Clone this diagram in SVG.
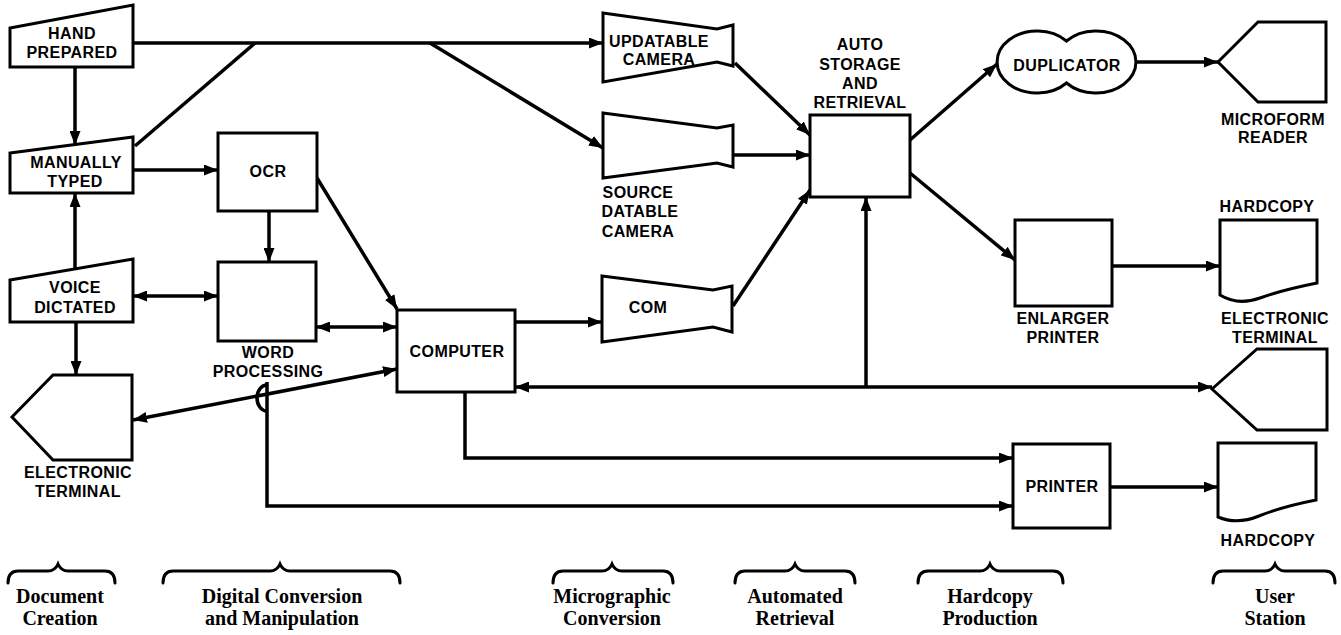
<svg xmlns="http://www.w3.org/2000/svg" width="1341" height="635" viewBox="0 0 1341 635">
<style>
.s{fill:#fff;stroke:#000;stroke-width:3;stroke-linejoin:miter}
.c{fill:none;stroke:#000;stroke-width:3.5}
.n{font-family:"Liberation Sans",Arial,sans-serif;font-size:16px;font-weight:bold;letter-spacing:0.4px;text-anchor:middle;fill:#000}
.b{font-family:"Liberation Serif","Times New Roman",serif;font-size:20px;font-weight:bold;text-anchor:middle;fill:#000}
.br{fill:none;stroke:#000;stroke-width:3;stroke-linecap:round}
</style>
<defs>
<marker id="a" markerUnits="userSpaceOnUse" markerWidth="15" markerHeight="11" refX="14" refY="5.5" orient="auto-start-reverse">
<path d="M0,0 L14,5.5 L0,11 z" fill="#000"/>
</marker>
</defs>
<rect width="1341" height="635" fill="#fff"/>

<g id="connectors">
<path class="c" d="M133,43 H603" marker-end="url(#a)"/>
<path class="c" d="M135,146 L255,43"/>
<path class="c" d="M430,43 L603,148" marker-end="url(#a)"/>
<path class="c" d="M75,67 V145" marker-end="url(#a)"/>
<path class="c" d="M75,270 V193" marker-end="url(#a)"/>
<path class="c" d="M133,170 H218" marker-end="url(#a)"/>
<path class="c" d="M269,211 V262" marker-end="url(#a)"/>
<path class="c" d="M317,178 L397,309" marker-end="url(#a)"/>
<path class="c" d="M133,296 H218" marker-start="url(#a)" marker-end="url(#a)"/>
<path class="c" d="M316,327 H397" marker-start="url(#a)" marker-end="url(#a)"/>
<path class="c" d="M76,322 V375" marker-end="url(#a)"/>
<path class="c" d="M397,369 L133,420" marker-start="url(#a)" marker-end="url(#a)"/>
<path class="c" d="M267,382 V506 H1013" marker-end="url(#a)"/>
<path class="c" d="M267,385 A10,13 0 0,0 267,411"/>
<path class="c" d="M465,392 V458 H1013" marker-end="url(#a)"/>
<path class="c" d="M515,322 H602" marker-end="url(#a)"/>
<path class="c" d="M515,387 H1212" marker-start="url(#a)" marker-end="url(#a)"/>
<path class="c" d="M866,387 V197" marker-end="url(#a)"/>
<path class="c" d="M735,63 L810,135" marker-end="url(#a)"/>
<path class="c" d="M733,155 H810" marker-end="url(#a)"/>
<path class="c" d="M733,306 L810,190" marker-end="url(#a)"/>
<path class="c" d="M910,140 L997,64" marker-end="url(#a)"/>
<path class="c" d="M910,173 L1015,260" marker-end="url(#a)"/>
<path class="c" d="M1136,62 H1218" marker-end="url(#a)"/>
<path class="c" d="M1112,266 H1220" marker-end="url(#a)"/>
<path class="c" d="M1110,487 H1218" marker-end="url(#a)"/>
</g>

<g id="hand-prepared">
<polygon class="s" points="10,28 133,5 133,67 10,67"/>
<text class="n" x="72" y="39">HAND</text>
<text class="n" x="72" y="58">PREPARED</text>
</g>
<g id="manually-typed">
<polygon class="s" points="10,153 133,137 133,193 10,193"/>
<text class="n" x="76" y="168">MANUALLY</text>
<text class="n" x="75" y="187">TYPED</text>
</g>
<g id="voice-dictated">
<polygon class="s" points="10,280 133,259 133,322 10,322"/>
<text class="n" x="75" y="293">VOICE</text>
<text class="n" x="75" y="313">DICTATED</text>
</g>
<g id="electronic-terminal-left">
<polygon class="s" points="12,417 53,375 132,375 132,460 53,460"/>
<text class="n" x="78" y="478">ELECTRONIC</text>
<text class="n" x="78" y="497">TERMINAL</text>
</g>
<g id="ocr">
<rect class="s" x="218" y="133" width="99" height="78"/>
<text class="n" x="268" y="177">OCR</text>
</g>
<g id="word-processing">
<rect class="s" x="218" y="262" width="98" height="79"/>
<text class="n" x="268" y="358">WORD</text>
<text class="n" x="268" y="377">PROCESSING</text>
</g>
<g id="computer">
<rect class="s" x="397" y="310" width="118" height="82"/>
<text class="n" x="457" y="357">COMPUTER</text>
</g>
<g id="updatable-camera">
<polygon class="s" points="603,13 717,29 733,25 733,66 717,62 603,82"/>
<text class="n" x="659" y="47">UPDATABLE</text>
<text class="n" x="659" y="65">CAMERA</text>
</g>
<g id="source-datable-camera">
<polygon class="s" points="603,113 717,128 733,125 733,167 717,163 603,178"/>
<text class="n" x="638" y="198">SOURCE</text>
<text class="n" x="640" y="217">DATABLE</text>
<text class="n" x="638" y="237">CAMERA</text>
</g>
<g id="com">
<polygon class="s" points="602,276 713,290 732,286 732,332 713,327 602,342"/>
<text class="n" x="648" y="313">COM</text>
</g>
<g id="auto-storage">
<rect class="s" x="810" y="115" width="100" height="82"/>
<text class="n" x="860" y="50">AUTO</text>
<text class="n" x="860" y="70">STORAGE</text>
<text class="n" x="860" y="89">AND</text>
<text class="n" x="860" y="108">RETRIEVAL</text>
</g>
<g id="duplicator">
<path class="s" d="M1066.5,41 A40,31 0 1,0 1066.5,83 A40,31 0 1,0 1066.5,41 Z"/>
<text class="n" x="1067" y="71">DUPLICATOR</text>
</g>
<g id="microform-reader">
<polygon class="s" points="1218,62 1258,22 1326,22 1326,102 1258,102"/>
<text class="n" x="1273" y="125">MICROFORM</text>
<text class="n" x="1273" y="143">READER</text>
</g>
<g id="enlarger-printer">
<rect class="s" x="1015" y="220" width="97" height="86"/>
<text class="n" x="1063" y="324">ENLARGER</text>
<text class="n" x="1063" y="343">PRINTER</text>
</g>
<g id="hardcopy-top">
<path class="s" d="M1220,220 H1317 V283 Q1282,290 1260,298 Q1238,306 1220,295 Z"/>
<text class="n" x="1267" y="212">HARDCOPY</text>
</g>
<g id="electronic-terminal-right">
<polygon class="s" points="1212,389 1257,349 1327,349 1327,430 1257,430"/>
<text class="n" x="1275" y="324">ELECTRONIC</text>
<text class="n" x="1275" y="343">TERMINAL</text>
</g>
<g id="printer">
<rect class="s" x="1013" y="444" width="97" height="84"/>
<text class="n" x="1062" y="492">PRINTER</text>
</g>
<g id="hardcopy-bottom">
<path class="s" d="M1218,443 H1316 V500 Q1281,507 1259,516 Q1237,525 1218,517 Z"/>
<text class="n" x="1268" y="546">HARDCOPY</text>
</g>

<g id="stages">
<path class="br" d="M8,583 Q8,571 18,571 L48,571 Q55,571 58,564 Q61,571 68,571 L105,571 Q115,571 115,583"/>
<text class="b" x="60" y="603">Document</text>
<text class="b" x="60" y="625">Creation</text>
<path class="br" d="M163,583 Q163,571 173,571 L270,571 Q277,571 280,564 Q283,571 290,571 L390,571 Q400,571 400,583"/>
<text class="b" x="282" y="603">Digital Conversion</text>
<text class="b" x="282" y="625">and Manipulation</text>
<path class="br" d="M553,583 Q553,571 563,571 L602,571 Q609,571 612,564 Q615,571 622,571 L663,571 Q673,571 673,583"/>
<text class="b" x="612" y="603">Micrographic</text>
<text class="b" x="612" y="625">Conversion</text>
<path class="br" d="M735,583 Q735,571 745,571 L785,571 Q792,571 795,564 Q798,571 805,571 L845,571 Q855,571 855,583"/>
<text class="b" x="795" y="603">Automated</text>
<text class="b" x="795" y="625">Retrieval</text>
<path class="br" d="M918,583 Q918,571 928,571 L980,571 Q987,571 990,564 Q993,571 1000,571 L1053,571 Q1063,571 1063,583"/>
<text class="b" x="990" y="603">Hardcopy</text>
<text class="b" x="990" y="625">Production</text>
<path class="br" d="M1213,583 Q1213,571 1223,571 L1265,571 Q1272,571 1275,564 Q1278,571 1285,571 L1325,571 Q1335,571 1335,583"/>
<text class="b" x="1275" y="603">User</text>
<text class="b" x="1275" y="625">Station</text>
</g>
</svg>
